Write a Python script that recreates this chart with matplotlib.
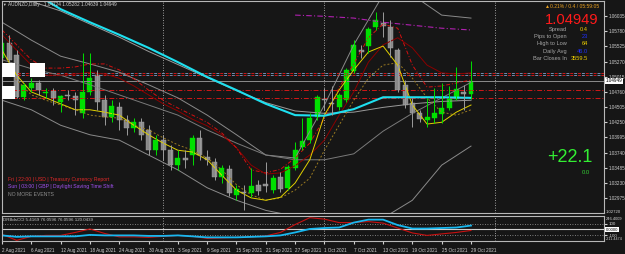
import matplotlib
matplotlib.use("Agg")
import matplotlib.pyplot as plt
from matplotlib.patches import Rectangle

W, H = 625, 254
BG = "#161616"
BULL = "#00e000"
BEAR = "#888888"
FONT = ["Liberation Sans", "DejaVu Sans"]

# AUDNZD daily bars, 2 Aug 2021 .. 29 Oct 2021
opens = [1.0533, 1.0558, 1.0538, 1.0467, 1.0483, 1.0491, 1.0474, 1.0478, 1.0459, 1.0471,
         1.0469, 1.0441, 1.0476, 1.0504, 1.0462, 1.0434, 1.0451, 1.0429, 1.0415, 1.0425,
         1.0412, 1.0378, 1.0395, 1.0378, 1.0353, 1.0365, 1.0370, 1.0399, 1.0367, 1.0358,
         1.0333, 1.0347, 1.0303, 1.0308, 1.0306, 1.0320, 1.0321, 1.0311, 1.0333, 1.0315,
         1.0348, 1.0383, 1.0395, 1.0434, 1.0464, 1.0457, 1.0451, 1.0462, 1.0511, 1.0546,
         1.0553, 1.0585, 1.0592, 1.0585, 1.0546, 1.0488, 1.0457, 1.0441, 1.0429, 1.0432,
         1.0439, 1.0449, 1.0464, 1.0476, 1.04724]
highs = [1.0563, 1.0572, 1.0546, 1.0491, 1.0499, 1.0496, 1.0483, 1.0483, 1.0471, 1.0479,
         1.0476, 1.0541, 1.0541, 1.0513, 1.0471, 1.0462, 1.0459, 1.0437, 1.0432, 1.0432,
         1.0420, 1.0404, 1.0404, 1.0387, 1.0378, 1.0378, 1.0404, 1.0412, 1.0378, 1.0365,
         1.0353, 1.0353, 1.0320, 1.0320, 1.0348, 1.0328, 1.0358, 1.0336, 1.0341, 1.0353,
         1.0392, 1.0432, 1.0441, 1.0471, 1.0483, 1.0486, 1.0474, 1.0516, 1.0563, 1.0555,
         1.0585, 1.0610, 1.0610, 1.0597, 1.0550, 1.0496, 1.0466, 1.0446, 1.0466, 1.0483,
         1.0491, 1.0486, 1.0518, 1.0488, 1.05282]
lows = [1.0530, 1.0526, 1.0466, 1.0462, 1.0476, 1.0471, 1.0466, 1.0454, 1.0442, 1.0462,
        1.0437, 1.0432, 1.0471, 1.0446, 1.0420, 1.0425, 1.0412, 1.0404, 1.0409, 1.0395,
        1.0370, 1.0370, 1.0362, 1.0345, 1.0345, 1.0348, 1.0353, 1.0362, 1.0353, 1.0328,
        1.0323, 1.0301, 1.0294, 1.0278, 1.0299, 1.0303, 1.0308, 1.0306, 1.0308, 1.0311,
        1.0345, 1.0378, 1.0390, 1.0429, 1.0446, 1.0437, 1.0446, 1.0459, 1.0508, 1.0533,
        1.0541, 1.0580, 1.0568, 1.0535, 1.0476, 1.0449, 1.0417, 1.0425, 1.0417, 1.0424,
        1.0424, 1.0446, 1.0462, 1.0446, 1.04639]
closes = [1.0558, 1.0530, 1.0467, 1.0488, 1.0491, 1.0479, 1.0476, 1.0466, 1.0469, 1.0469,
          1.0462, 1.0476, 1.0499, 1.0459, 1.0434, 1.0452, 1.0429, 1.0415, 1.0425, 1.0404,
          1.0378, 1.0395, 1.0378, 1.0353, 1.0365, 1.0362, 1.0399, 1.0370, 1.0362, 1.0333,
          1.0348, 1.0306, 1.0313, 1.0306, 1.0318, 1.0310, 1.0318, 1.0331, 1.0313, 1.0350,
          1.0378, 1.0393, 1.0432, 1.0467, 1.0462, 1.0456, 1.0471, 1.0513, 1.0555, 1.0543,
          1.0582, 1.0597, 1.0587, 1.0550, 1.0479, 1.0454, 1.0441, 1.0431, 1.0434, 1.0441,
          1.0449, 1.0464, 1.0481, 1.0473, 1.04949]

date_labels = ["2 Aug 2021", "6 Aug 2021", "12 Aug 2021", "18 Aug 2021", "24 Aug 2021",
               "30 Aug 2021", "3 Sep 2021", "9 Sep 2021", "15 Sep 2021", "21 Sep 2021",
               "27 Sep 2021", "1 Oct 2021", "7 Oct 2021", "13 Oct 2021", "19 Oct 2021",
               "25 Oct 2021", "29 Oct 2021"]
price_ticks = [1.06035, 1.05780, 1.05525, 1.05270, 1.05015, 1.04760, 1.04505,
               1.04250, 1.03995, 1.03740, 1.03485, 1.03230, 1.02975]

# indicator lines, sampled every 2nd / 4th bar
bars2 = list(range(0, 65, 2))
bars4 = list(range(0, 65, 4))
ma_cyan = [1.0665, 1.0645, 1.0615, 1.0593, 1.0572, 1.0550, 1.0526, 1.0501, 1.0479,
           1.0456, 1.0437, 1.0436, 1.0447, 1.0467, 1.0467, 1.0467, 1.0466]
ma_yellow = [1.0546, 1.0504, 1.0476, 1.0466, 1.0456, 1.0446, 1.0446, 1.0442, 1.0437, 1.0420,
             1.0404, 1.0390, 1.0378, 1.0375, 1.0362, 1.0336, 1.0311, 1.0298, 1.0294, 1.0299,
             1.0323, 1.0362, 1.0437, 1.0479, 1.0513, 1.0543, 1.0553, 1.0521, 1.0454, 1.0422,
             1.0425, 1.0442, 1.0454]
ma_olive = [1.0530, 1.0496, 1.0471, 1.0462, 1.0454, 1.0446, 1.0437, 1.0434, 1.0432, 1.0420,
            1.0412, 1.0399, 1.0387, 1.0378, 1.0365, 1.0345, 1.0320, 1.0303, 1.0294, 1.0298,
            1.0311, 1.0331, 1.0378, 1.0420, 1.0462, 1.0499, 1.0521, 1.0525, 1.0499, 1.0466,
            1.0442, 1.0437, 1.0446]
ma_red = [1.0580, 1.0555, 1.0530, 1.0516, 1.0516, 1.0518, 1.0523, 1.0523, 1.0513, 1.0498,
          1.0479, 1.0462, 1.0449, 1.0437, 1.0425, 1.0407, 1.0382, 1.0345, 1.0340, 1.0346,
          1.0365, 1.0390, 1.0432, 1.0483, 1.0523, 1.0567, 1.0590, 1.0583, 1.0521, 1.0484,
          1.0486, 1.0491, 1.0496]
ma_darkred = [1.0572, 1.0546, 1.0521, 1.0504, 1.0504, 1.0506, 1.0509, 1.0506, 1.0499, 1.0486,
              1.0471, 1.0456, 1.0444, 1.0430, 1.0419, 1.0404, 1.0382, 1.0353, 1.0338, 1.0340,
              1.0352, 1.0370, 1.0395, 1.0437, 1.0476, 1.0526, 1.0555, 1.0567, 1.0550, 1.0521,
              1.0508, 1.0506, 1.0508]
bb_upper = [1.0593, 1.0563, 1.0536, 1.0523, 1.0509, 1.0488, 1.0466, 1.0437, 1.0404,
            1.0370, 1.0365, 1.0454, 1.0555, 1.0639, 1.0639, 1.0605, 1.0600]
bb_lower = [1.0462, 1.0446, 1.0420, 1.0404, 1.0395, 1.0370, 1.0345, 1.0315, 1.0294,
            1.0277, 1.0267, 1.0261, 1.0257, 1.0264, 1.0294, 1.0353, 1.0385]
ma_gray_fast = [1.0645, 1.0628, 1.0612, 1.0590, 1.0568, 1.0544, 1.0522, 1.0500, 1.0478,
                1.0458, 1.0444, 1.0440, 1.0442, 1.0450, 1.0456, 1.0460, 1.0462]
ma_gray_slow = [1.0530, 1.0515, 1.0504, 1.0488, 1.0471, 1.0454, 1.0437, 1.0412, 1.0390,
                1.0370, 1.0362, 1.0362, 1.0372, 1.0410, 1.0440, 1.0466, 1.0492]
magenta_bars = [40, 44, 48, 52, 56, 60, 64]
ma_magenta = [1.0605, 1.0603, 1.0600, 1.0593, 1.0588, 1.0583, 1.0580]

# horizontal levels
level_pair = [1.05083, 1.05036]
level_red = [1.04800, 1.04666]
bid = 1.04949

cci_blue = [-106, -132, -123, -123, -123, -123, -97, -106, -106, -106, -115, -115, -106,
            -123, -141, -141, -141, -132, -123, -106, -53, 9, 26, 35, 123, 176, 176, 79,
            17, 17, 26, 35, 70]
cci_red = [-88, -194, -123, -106, -106, -53, 9, -71, -132, -132, -141, -123, -106, -123,
           -159, -150, -141, -132, -115, -53, 88, 211, 185, 123, 123, 141, 114, 26, -62,
           -106, -79, -53, -18]
separators = [22, 44, 67.3]


def box(x0, y0, x1, y1):
    return [x0 / W, 1 - y1 / H, (x1 - x0) / W, (y1 - y0) / H]


def ftext(x, y, s, **kw):
    kw.setdefault("family", FONT)
    kw.setdefault("va", "center")
    fig.text(x / W, 1 - y / H, s, **kw)


fig = plt.figure(figsize=(W / 100, H / 100), dpi=100, facecolor=BG)
ax = fig.add_axes(box(2, 1, 604, 213))
ax2 = fig.add_axes(box(2, 215.7, 604, 241.3))
for a in (ax, ax2):
    a.set_facecolor(BG)
    a.set_xlim(0, 82.15)
    for s in a.spines.values():
        s.set_color("#b8b8b8")
        s.set_linewidth(0.8)
    for sx in separators:
        a.axvline(sx, color="#c8c8c8", ls=(0, (1, 2)), lw=0.6)

ax.set_ylim(1.02726, 1.06287)

# horizontal levels
for lv in level_pair:
    ax.axhline(lv, color="#d01818", ls=(0, (3, 5)), lw=0.7)
    ax.axhline(lv, color="#6f8fb0", ls=(4, (3, 5)), lw=0.7)
for lv in level_red:
    ax.axhline(lv, color="#d01818", ls=(0, (5, 2, 1, 2)), lw=0.7)
ax.axhline(bid, color="#8c8c8c", lw=0.7)

# moving averages / bands
ax.plot(bars4, bb_upper, color="#8a8a8a", lw=0.7)
ax.plot(bars4, bb_lower, color="#8a8a8a", lw=0.7)
ax.plot(bars4, ma_gray_slow, color="#7a7a7a", lw=0.7)
ax.plot(bars4, ma_gray_fast, color="#9a9a9a", lw=0.7)
ax.plot(bars2, ma_darkred, color="#8b0000", lw=0.7)
ax.plot(bars2, ma_red, color="#d41010", lw=0.7, ls=(0, (4, 2, 1, 2)))
ax.plot(bars2, ma_olive, color="#9a7a20", lw=0.7, ls=(0, (2, 2)))
ax.plot(bars2, ma_yellow, color="#e0d000", lw=0.7)
ax.plot(magenta_bars, ma_magenta, color="#b020b0", lw=0.8, ls=(0, (5, 2, 1, 2)))
ax.plot(bars4, ma_cyan, color="#1ee0f0", lw=1.5)

# candles
for i in range(len(opens)):
    up = closes[i] >= opens[i]
    col = BULL if up else BEAR
    ax.vlines(i, lows[i], highs[i], color=col if up else "#9c9c9c", lw=0.7)
    lo, hi = sorted((opens[i], closes[i]))
    ax.bar(i, max(hi - lo, 0.00012), bottom=lo, width=0.68, color=col,
           edgecolor=col if up else "#a8a8a8", lw=0.3)

ax.yaxis.tick_right()
ax.set_yticks(price_ticks)
ax.set_yticklabels([f"{p:.5f}" for p in price_ticks], family=FONT)
ax.tick_params(axis="y", colors="#d0d0d0", labelsize=3.3, length=2, pad=1.5)
ax.set_xticks([])

# indicator panel
ax2.set_ylim(-211.45, 246.40)
ax2.axhline(100, color="#a0a0a0", ls=(0, (1, 2)), lw=0.6)
ax2.axhline(-100, color="#a0a0a0", ls=(0, (1, 2)), lw=0.6)
ax2.axhline(0, color="#d0d0d0", lw=0.8)
ax2.plot(bars2, cci_red, color="#c81010", lw=0.8)
ax2.plot(bars2, cci_blue, color="#18b8f0", lw=1.3)
ax2.yaxis.tick_right()
ax2.set_yticks([100, -100])
ax2.set_yticklabels(["100", "-100"], family=FONT)
ax2.tick_params(axis="y", colors="#d0d0d0", labelsize=3.2, length=2, pad=1.5)
ax2.set_xticks(bars4)
ax2.set_xticklabels(date_labels, family=FONT, ha="left")
ax2.tick_params(axis="x", colors="#d0d0d0", labelsize=3.3, length=2, pad=2.5)

# white label boxes at left (indicator objects)
for r in [(2, 63, 15, 77), (30, 63, 45, 77), (2, 86, 15, 99)]:
    fig.add_artist(Rectangle((r[0] / W, 1 - r[3] / H), (r[2] - r[0]) / W,
                             (r[3] - r[1]) / H, transform=fig.transFigure,
                             facecolor="white", edgecolor="none"))

# texts
ftext(2.5, 4.5, "▼", fontsize=2.6, color="#d0d0d0")
ftext(8, 4.5, "AUDNZD,Daily   1.04724 1.05282 1.04639 1.04949", fontsize=3.4, color="#d0d0d0")
ftext(545, 7, "▲0.21% / 0.4 / 05:59:05", fontsize=3.6, color="#e8a020")
ftext(598, 20.5, "1.04949", fontsize=10.6, color="#ff1a1a", ha="right")
info = [("Spread", "0.4", "#f0d000"), ("Pips to Open", "23", "#2030ff"),
        ("High to Low", "64", "#f0d000"), ("Daily Avg", "46.0", "#2030ff"),
        ("Bar Closes In", "3559.5", "#f0d000")]
for k, (lab, val, c) in enumerate(info):
    y = 29.5 + k * 7.2
    ftext(567, y, lab, fontsize=4.1, color="#a8a8a8", ha="right")
    ftext(588, y, val, fontsize=4.1, color=c, ha="right")
ftext(593, 158, "+22.1", fontsize=13, color="#33ee33", ha="right")
ftext(590, 172, "0.0", fontsize=4.2, color="#33cc33", ha="right")

ftext(8, 179, "Fri | 22:00 | USD | Treasury Currency Report", fontsize=3.7, color="#e02828")
ftext(8, 186.5, "Sun | 03:00 | GBP | Daylight Saving Time Shift", fontsize=3.7, color="#a050f0")
ftext(8, 195, "NO MORE EVENTS", fontsize=3.7, color="#8c8c8c")
ftext(3, 220, "DRBdsCCI 5.4169 76.0596 76.0596 120.0439", fontsize=3.2, color="#c8c8c8")

ftext(606, 81, "1.04949", fontsize=3.3, color="black",
      bbox=dict(facecolor="white", edgecolor="none", pad=0.4))
ftext(606, 229.7, "0.0000", fontsize=3.0, color="black",
      bbox=dict(facecolor="white", edgecolor="none", pad=0.4))
ftext(606, 212.3, "1.02720", fontsize=3.1, color="#d0d0d0")
ftext(606, 218.6, "246.4009", fontsize=2.9, color="#d0d0d0")
ftext(606, 239.5, "-211.4474", fontsize=2.7, color="#d0d0d0")

fig.savefig("out.png", dpi=100, facecolor=BG)
